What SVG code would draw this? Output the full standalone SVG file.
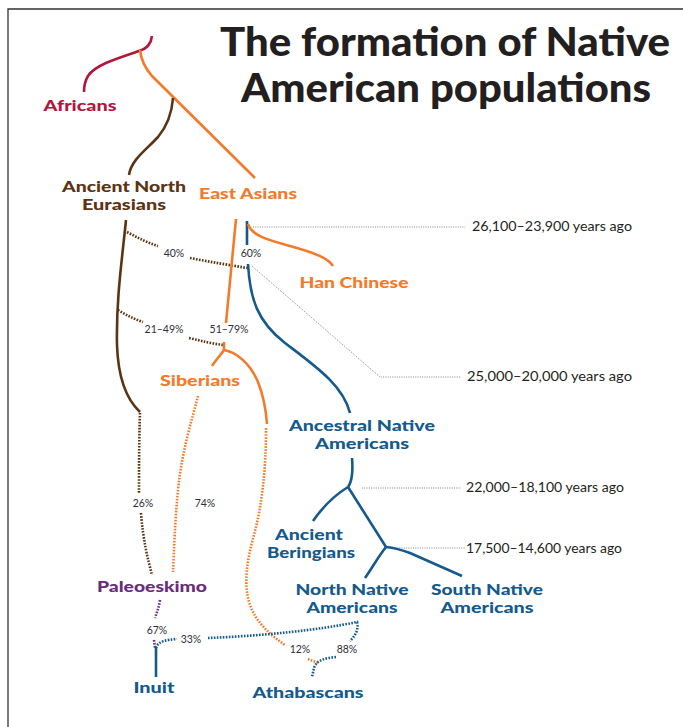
<svg xmlns="http://www.w3.org/2000/svg" width="683" height="727" viewBox="0 0 683 727">
<style>
.lbl{font-family:Lato,"Open Sans","Liberation Sans",sans-serif;font-weight:900;font-size:15.5px;text-anchor:middle}
.title{font-family:Lato,"Open Sans","Liberation Sans",sans-serif;font-weight:900;font-size:39px;fill:#231f20;text-anchor:middle}
.pct{font-family:Lato,"Open Sans","Liberation Sans",sans-serif;font-size:10.5px;fill:#2e2e3a;text-anchor:middle}
.yr{font-family:Lato,"Open Sans","Liberation Sans",sans-serif;font-size:13.5px;fill:#231f20}
.s{fill:none;stroke-width:2.6;stroke-linecap:butt}
.d{fill:none;stroke-width:2.6;stroke-dasharray:1.6 1.4}
.g{fill:none;stroke:#777;stroke-width:0.9;stroke-dasharray:1 1.3}
.red{stroke:#b3163c}.or{stroke:#f47a2a}.br{stroke:#5b3413}.bl{stroke:#145a8d}.pu{stroke:#6a2c7a}
</style>
<path d="M683,9 L8,9 L8,727" fill="none" stroke="#333" stroke-width="1.3"/>
<g id="title">
<text class="title" x="445" y="56" textLength="450" lengthAdjust="spacingAndGlyphs">The formation of Native</text>
<text class="title" x="446" y="102" textLength="410" lengthAdjust="spacingAndGlyphs">American populations</text>
</g>
<g id="connectors">
<path class="s red" d="M152,36 C151,45 146,49 139,51 C118,58 95,65 88,76 C85,81 84,86 84,92"/>
<path class="s or" d="M140,50 C141,60 145,68 152,76 L255,178"/>
<path class="s br" d="M173,98 C172,112 168,125 158,137 C146,150 131,160 129,175"/>
<path class="s br" d="M126,220 C122,260 116,300 117,345 C118,375 125,398 140,412"/>
<path class="d br" d="M140,413 C139,440 139,470 139,494"/>
<path class="d br" d="M141,513 C143,540 148,560 152,575"/>
<path class="d br" d="M127,232 C138,238 148,243 158,246"/>
<path class="d br" d="M190,258 C210,262 230,265 247,268"/>
<path class="d br" d="M118,310 C126,315 134,319 143,322"/>
<path class="d br" d="M189,338 C202,341 213,344 224,345"/>
<path class="s or" d="M236,219 L226,323"/>
<path class="s or" d="M224,342 L224,350"/>
<path class="s or" d="M224,350 C236,352 250,363 258,382 C264,397 266,410 267,424"/>
<path class="s or" d="M224,350 C220,356 215,361 212,366"/>
<path class="d or" d="M198,396 C192,420 182,450 178,490 C175,520 174,550 173,572"/>
<path class="d or" d="M266,428 C266,470 262,505 254,535 C247,560 243,585 250,605 C256,622 270,635 285,645"/>
<path class="d or" d="M308,659 L318,663"/>
<path class="s bl" d="M247,221 L247,245"/>
<path class="s bl" d="M248,264 C250,300 258,322 285,343 C315,366 343,385 350,413"/>
<path class="s or" d="M248,224 C252,236 268,240 290,246 C315,253 328,258 333,266"/>
<path class="g" d="M253,227 L465,227"/>
<path class="g" d="M252,266 L380,377 L461,377"/>
<path class="g" d="M362,488 L461,488"/>
<path class="g" d="M390,548 L465,548"/>
<path class="s bl" d="M352,458 C353,470 353,480 348,487"/>
<path class="s bl" d="M348,487 C335,495 322,508 313,521"/>
<path class="s bl" d="M348,487 L386,547"/>
<path class="s bl" d="M386,547 C378,557 372,568 365,578"/>
<path class="s bl" d="M386,547 C395,548 402,550 410,553 L462,576"/>
<path class="d pu" d="M160,600 C159,607 157,612 155,618"/>
<path class="d pu" d="M154,640 L155,648"/>
<path class="s bl" d="M156,647 L156,677"/>
<path class="d bl" d="M156,648 C158,641 166,640 177,639"/>
<path class="d bl" d="M208,638 C260,636 320,630 357,622 C359,630 355,636 350,641"/>
<path class="d bl" d="M336,657 C326,658 316,660 314,668 L312,677"/>
</g>
<g id="africans"><text class="lbl" x="80" y="111" fill="#b3163c" textLength="73" lengthAdjust="spacingAndGlyphs">Africans</text></g>
<g id="ancient-north-eurasians">
<text class="lbl" x="124" y="192" fill="#5b3413" textLength="124" lengthAdjust="spacingAndGlyphs">Ancient North</text>
<text class="lbl" x="124" y="210" fill="#5b3413" textLength="84" lengthAdjust="spacingAndGlyphs">Eurasians</text>
</g>
<g id="east-asians"><text class="lbl" x="248" y="199" fill="#f47a2a" textLength="98" lengthAdjust="spacingAndGlyphs">East Asians</text></g>
<g id="han-chinese"><text class="lbl" x="354" y="288" fill="#f47a2a" textLength="109" lengthAdjust="spacingAndGlyphs">Han Chinese</text></g>
<g id="siberians"><text class="lbl" x="200" y="386" fill="#f47a2a" textLength="80" lengthAdjust="spacingAndGlyphs">Siberians</text></g>
<g id="ancestral-native-americans">
<text class="lbl" x="362" y="431" fill="#145a8d" textLength="146" lengthAdjust="spacingAndGlyphs">Ancestral Native</text>
<text class="lbl" x="362" y="449" fill="#145a8d" textLength="94" lengthAdjust="spacingAndGlyphs">Americans</text>
</g>
<g id="ancient-beringians">
<text class="lbl" x="309" y="540" fill="#145a8d" textLength="68" lengthAdjust="spacingAndGlyphs">Ancient</text>
<text class="lbl" x="311" y="558" fill="#145a8d" textLength="88" lengthAdjust="spacingAndGlyphs">Beringians</text>
</g>
<g id="north-native-americans">
<text class="lbl" x="352" y="595" fill="#145a8d" textLength="113" lengthAdjust="spacingAndGlyphs">North Native</text>
<text class="lbl" x="352" y="613" fill="#145a8d" textLength="91" lengthAdjust="spacingAndGlyphs">Americans</text>
</g>
<g id="south-native-americans">
<text class="lbl" x="487" y="595" fill="#145a8d" textLength="112" lengthAdjust="spacingAndGlyphs">South Native</text>
<text class="lbl" x="487" y="613" fill="#145a8d" textLength="93" lengthAdjust="spacingAndGlyphs">Americans</text>
</g>
<g id="paleoeskimo"><text class="lbl" x="152" y="592" fill="#6a2c7a" textLength="110" lengthAdjust="spacingAndGlyphs">Paleoeskimo</text></g>
<g id="inuit"><text class="lbl" x="154" y="693" fill="#145a8d" textLength="41" lengthAdjust="spacingAndGlyphs">Inuit</text></g>
<g id="athabascans"><text class="lbl" x="308" y="698" fill="#145a8d" textLength="111" lengthAdjust="spacingAndGlyphs">Athabascans</text></g>
<g id="percentages">
<text class="pct" x="174" y="257">40%</text>
<text class="pct" x="251" y="257">60%</text>
<text class="pct" x="164" y="333">21–49%</text>
<text class="pct" x="229" y="333">51–79%</text>
<text class="pct" x="143" y="507">26%</text>
<text class="pct" x="205" y="507">74%</text>
<text class="pct" x="157" y="634">67%</text>
<text class="pct" x="191" y="643">33%</text>
<text class="pct" x="300" y="653">12%</text>
<text class="pct" x="347" y="653">88%</text>
</g>
<g id="timeline">
<text class="yr" x="472" y="231" textLength="160" lengthAdjust="spacingAndGlyphs">26,100–23,900 years ago</text>
<text class="yr" x="467" y="381" textLength="165" lengthAdjust="spacingAndGlyphs">25,000–20,000 years ago</text>
<text class="yr" x="466" y="492" textLength="158" lengthAdjust="spacingAndGlyphs">22,000–18,100 years ago</text>
<text class="yr" x="466" y="553" textLength="156" lengthAdjust="spacingAndGlyphs">17,500–14,600 years ago</text>
</g>
</svg>
